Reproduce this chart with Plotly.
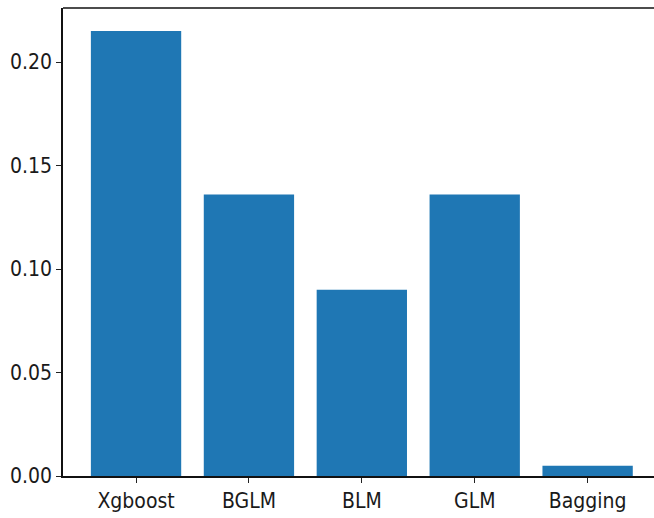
import plotly.graph_objects as go

# Model scores
models = ["Xgboost", "BGLM", "BLM", "GLM", "Bagging"]
scores = [0.215, 0.136, 0.090, 0.136, 0.005]
y_ticks = [0.00, 0.05, 0.10, 0.15, 0.20]
y_tick_text = ["0.00", "0.05", "0.10", "0.15", "0.20"]

W, H = 654, 518
font = dict(family="DejaVu Sans Condensed, DejaVu Sans", size=21, color="#1a1a1a")

fig = go.Figure(
    go.Bar(
        x=list(range(len(models))),
        y=scores,
        width=0.8,
        marker=dict(color="#1f77b4", line=dict(width=0)),
    )
)

fig.update_layout(
    width=W,
    height=H,
    margin=dict(l=63, r=0, t=8, b=42),
    plot_bgcolor="white",
    paper_bgcolor="white",
    showlegend=False,
    font=font,
    bargap=0.2,
)

fig.update_xaxes(
    range=[-0.647, 4.588],
    tickmode="array",
    tickvals=list(range(len(models))),
    ticktext=models,
    ticks="outside",
    ticklen=5,
    tickwidth=1.2,
    tickcolor="#222222",
    showline=True,
    linecolor="#111111",
    linewidth=1.5,
    showgrid=False,
    zeroline=False,
    tickfont=font,
)

fig.update_yaxes(
    range=[0, 0.2261],
    tickmode="array",
    tickvals=y_ticks,
    ticktext=y_tick_text,
    ticks="outside",
    ticklen=5,
    tickwidth=1.2,
    tickcolor="#222222",
    showline=True,
    linecolor="#111111",
    linewidth=1.5,
    showgrid=False,
    zeroline=False,
    tickfont=font,
)

# top frame line across the plot area
fig.add_shape(
    type="line", xref="paper", yref="paper",
    x0=0, x1=1, y0=1, y1=1,
    line=dict(color="#111111", width=1.5),
)

fig.write_html("out.html")
